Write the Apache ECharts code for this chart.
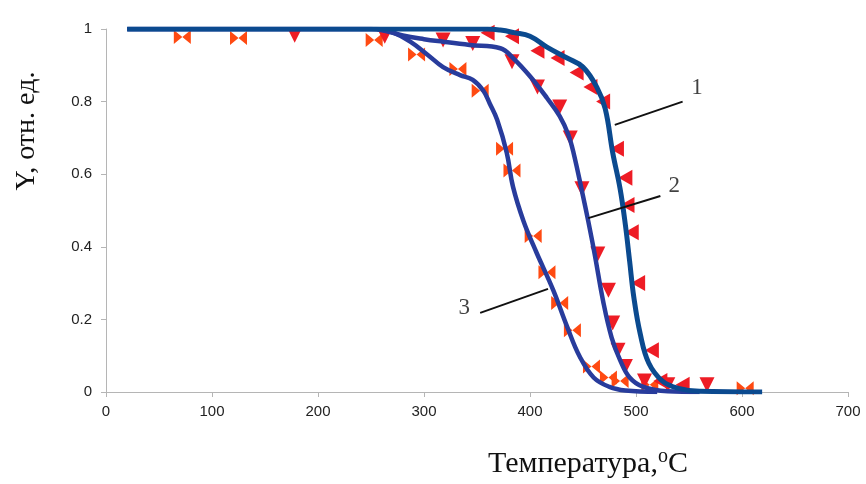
<!DOCTYPE html>
<html><head><meta charset="utf-8">
<script src="https://cdn.jsdelivr.net/npm/echarts@6/dist/echarts.min.js"></script>
<style>html,body{margin:0;padding:0;background:#fff}#c{width:866px;height:484px}</style>
</head><body><div id="c"></div>
<script>
// Fitted curves [temperature, Y]
const curve1 = [[20,1],[300,1],[360,1],[372,0.997],[385,0.99],[400,0.98],[416,0.95],[435,0.92],[450,0.895],[463,0.84],[471,0.78],[478,0.66],[485,0.56],[490,0.46],[494,0.36],[498,0.26],[504,0.16],[512,0.08],[525,0.03],[540,0.01],[560,0.002],[619,0]];
const curve2 = [[20,1],[250,1],[263,0.995],[280,0.982],[300,0.972],[318,0.965],[343,0.956],[372,0.947],[384,0.92],[400,0.87],[416,0.81],[428,0.76],[436,0.71],[441,0.66],[450,0.54],[455,0.47],[461,0.38],[469,0.25],[477,0.15],[485,0.088],[494,0.04],[507,0.014],[530,0.002],[560,0]];
const curve3 = [[20,1],[255,1],[271,0.99],[287,0.965],[303,0.93],[318,0.895],[334,0.873],[346,0.86],[356,0.83],[362,0.795],[369,0.75],[378,0.66],[384,0.565],[394,0.47],[406,0.385],[422,0.28],[435,0.18],[447,0.097],[460,0.04],[475,0.014],[490,0.004],[520,0]];
// Experimental points
const points1 = [[360,0.99],[383,0.98],[407,0.94],[426,0.92],[444,0.88],[457,0.84],[469,0.80],[482,0.67],[490,0.59],[492,0.515],[496,0.44],[502,0.30],[515,0.115],[523,0.03],[544,0.02]];
const points2 = [[178,0.983],[263,0.98],[318,0.97],[346,0.96],[383,0.91],[407,0.84],[428,0.785],[438,0.70],[449,0.56],[464,0.38],[474,0.28],[478,0.19],[483,0.115],[490,0.07],[508,0.03],[530,0.02],[567,0.02]];
const points3 = [[72,0.978],[125,0.975],[253,0.97],[293,0.93],[332,0.89],[353,0.83],[376,0.67],[383,0.61],[403,0.43],[416,0.33],[428,0.245],[440,0.17],[458,0.07],[474,0.04],[485,0.03],[513,0.02],[603,0.01]];
// Curve labels with leader lines
const labelNames = ['1','2','3'];
const labelPos = [[557.5,0.837],[536,0.567],[338,0.231]];
const leaderLines = [[[480,0.736],[544,0.80]],[[455,0.479],[523,0.54]],[[353,0.218],[417,0.284]]];

const xTitle = 'Температура,';
const yTitle = 'Y, отн. ед.';

const chart = echarts.init(document.getElementById('c'));
const symLeft = 'path://M0,5 L10,0 L10,10 Z';
const symDown = 'path://M0,0 L10,0 L5,10 Z';
const symBow = 'path://M0,0 L5,5 L0,10 Z M10,0 L5,5 L10,10 Z';
const axisCol = '#b5b5b5';
const series = [
  {type:'scatter', data:points3, symbol:symBow, symbolSize:[17,14], itemStyle:{color:'#ff4a12', opacity:1}, z:2},
  {type:'scatter', data:points2, symbol:symDown, symbolSize:[15,15], itemStyle:{color:'#ee1c25', opacity:1}, z:2},
  {type:'scatter', data:points1, symbol:symLeft, symbolSize:[14,16], itemStyle:{color:'#ee1c25', opacity:1}, z:2},
  {type:'line', data:curve3, showSymbol:false, smooth:0.4, lineStyle:{color:'#283c9c', width:4.5}, z:3},
  {type:'line', data:curve2, showSymbol:false, smooth:0.4, lineStyle:{color:'#283c9c', width:4.5}, z:3},
  {type:'line', data:curve1, showSymbol:false, smooth:0.4, lineStyle:{color:'#0b4a8f', width:5}, z:4}
];
leaderLines.forEach(l => series.push({type:'line', data:l, showSymbol:false, lineStyle:{color:'#111', width:2}, z:5, silent:true}));
series.push({type:'scatter', data:labelPos.map((p,i)=>({value:p, name:labelNames[i]})), symbolSize:0, z:6,
  label:{show:true, formatter:p=>p.name, position:'inside', color:'#111', fontFamily:'Liberation Serif', fontSize:23}});

chart.setOption({
  animation:false,
  grid:{left:106, right:18, top:29, bottom:92},
  xAxis:{type:'value', min:0, max:700, interval:100,
    axisLine:{lineStyle:{color:axisCol}}, axisTick:{show:true, length:5, lineStyle:{color:axisCol}},
    splitLine:{show:false},
    axisLabel:{color:'#222', fontFamily:'Liberation Sans', fontSize:15, margin:12}},
  yAxis:{type:'value', min:0, max:1, interval:0.2,
    axisLine:{show:true, lineStyle:{color:axisCol}}, axisTick:{show:true, length:5, lineStyle:{color:axisCol}},
    splitLine:{show:false},
    axisLabel:{color:'#222', fontFamily:'Liberation Sans', fontSize:15, margin:14}},
  graphic:[
    {type:'text', left:488, top:447, style:{rich:{a:{fontFamily:'Liberation Serif', fontSize:30, fill:'#111'}, s:{fontFamily:'Liberation Serif', fontSize:20, fill:'#111', verticalAlign:'top', padding:[0,0,14,0]}}, text:'{a|'+xTitle+'}{s|o}{a|C}', fill:'#111'}},
    {type:'text', x:27, y:131, rotation:Math.PI/2, style:{text:yTitle, fontFamily:'Liberation Serif', fontSize:28, fill:'#111', align:'center', verticalAlign:'middle'}}
  ],
  series
});
</script></body></html>
